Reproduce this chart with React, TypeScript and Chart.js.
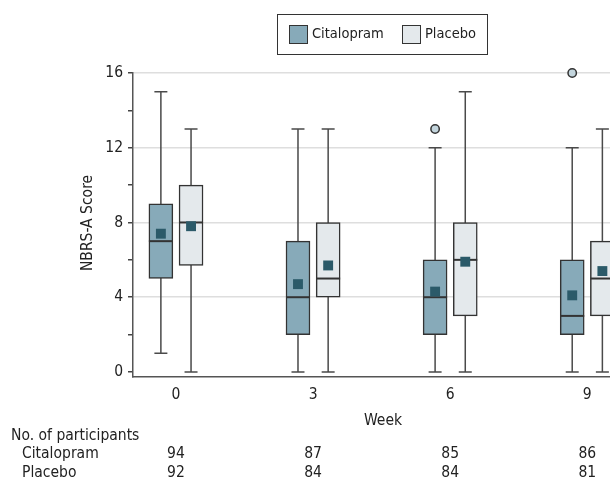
import React, { useEffect, useRef } from "react";
import { Chart, registerables } from "chart.js";

Chart.register(...registerables);

// ---- data ----
const weeks = [0, 3, 6, 9];
const citalopramLow = [1, 0, 0, 0];
const citalopramQ1 = [5, 2, 2, 2];
const citalopramMedian = [7, 4, 4, 3];
const citalopramQ3 = [9, 7, 6, 6];
const citalopramHigh = [15, 13, 12, 12];
const citalopramMean = [7.4, 4.7, 4.3, 4.1];
const citalopramOutlierWeeks = [6, 9];
const citalopramOutlierValues = [13, 16];

const placeboLow = [0, 0, 0, 0];
const placeboQ1 = [5.7, 4, 3, 3];
const placeboMedian = [8, 5, 6, 5];
const placeboQ3 = [10, 8, 8, 7];
const placeboHigh = [13, 13, 15, 13];
const placeboMean = [7.8, 5.7, 5.9, 5.4];

const citalopramN = [94, 87, 85, 86];
const placeboN = [92, 84, 84, 81];

const yTickValues = [0, 2, 4, 6, 8, 10, 12, 14, 16];
const yLabelValues = [0, 4, 8, 12, 16];

const seriesNames = ["Citalopram", "Placebo"];

// ---- style ----
const FONT = "'DejaVu Sans Condensed', 'DejaVu Sans', sans-serif";
const FS = 15.5;
const TEXT = "#222";
const CIT_FILL = "#87aab9";
const PLA_FILL = "#e4e9ec";
const MEAN_COL = "#2b5a69";
const BOX_BORDER = "#333";
const WHISKER = "#4a4a4a";
const OFFSET = 0.33;

const groups = [
  { name: seriesNames[0], off: -OFFSET, low: citalopramLow, q1: citalopramQ1, med: citalopramMedian, q3: citalopramQ3, high: citalopramHigh },
  { name: seriesNames[1], off: OFFSET, low: placeboLow, q1: placeboQ1, med: placeboMedian, q3: placeboQ3, high: placeboHigh },
];

const boxPlugin = {
  id: "boxExtras",
  beforeDatasetsDraw(chart: any) {
    const { ctx, scales } = chart;
    const x = scales.x, y = scales.y;
    ctx.save();
    ctx.strokeStyle = WHISKER;
    ctx.lineWidth = 1.5;
    const cap = 6.5;
    groups.forEach((g) => {
      weeks.forEach((w, i) => {
        const px = x.getPixelForValue(w + g.off);
        const yl = y.getPixelForValue(g.low[i]);
        const yh = y.getPixelForValue(g.high[i]);
        ctx.beginPath();
        ctx.moveTo(px, yl);
        ctx.lineTo(px, yh);
        ctx.moveTo(px - cap, yl);
        ctx.lineTo(px + cap, yl);
        ctx.moveTo(px - cap, yh);
        ctx.lineTo(px + cap, yh);
        ctx.stroke();
      });
    });
    ctx.restore();
  },
  afterDatasetDraw(chart: any, args: any) {
    if (args.index > 1) return;
    const g = groups[args.index];
    const { ctx, scales } = chart;
    const x = scales.x, y = scales.y;
    ctx.save();
    ctx.strokeStyle = BOX_BORDER;
    ctx.lineWidth = 2;
    weeks.forEach((w, i) => {
      const px = x.getPixelForValue(w + g.off);
      const py = y.getPixelForValue(g.med[i]);
      ctx.beginPath();
      ctx.moveTo(px - 12, py);
      ctx.lineTo(px + 12, py);
      ctx.stroke();
    });
    ctx.restore();
  },
  afterDraw(chart: any) {
    const { ctx, scales, chartArea } = chart;
    const x = scales.x;
    ctx.save();
    ctx.fillStyle = TEXT;
    ctx.font = `${FS}px ${FONT}`;
    ctx.textBaseline = "middle";
    // y title
    ctx.save();
    ctx.translate(88, (chartArea.top + chartArea.bottom) / 2 - 2);
    ctx.rotate(-Math.PI / 2);
    ctx.textAlign = "center";
    ctx.fillText("NBRS-A Score", 0, 0);
    ctx.restore();
    // x title
    ctx.textAlign = "center";
    ctx.fillText("Week", (chartArea.left + chartArea.right) / 2, 421);
    // participants table
    ctx.textAlign = "left";
    ctx.fillText("No. of participants", 11, 436);
    ctx.fillText(seriesNames[0], 22, 454);
    ctx.fillText(seriesNames[1], 22, 473);
    ctx.textAlign = "center";
    weeks.forEach((w, i) => {
      const px = x.getPixelForValue(w);
      ctx.fillText(String(citalopramN[i]), px, 454);
      ctx.fillText(String(placeboN[i]), px, 473);
    });
    // legend
    ctx.font = `14.5px ${FONT}`;
    ctx.strokeStyle = "#333";
    ctx.lineWidth = 1;
    ctx.strokeRect(277.5, 14.5, 210, 40);
    const items = [
      { fill: CIT_FILL, sx: 289, tx: 312, label: seriesNames[0] },
      { fill: PLA_FILL, sx: 402, tx: 425, label: seriesNames[1] },
    ];
    items.forEach((it) => {
      ctx.fillStyle = it.fill;
      ctx.fillRect(it.sx, 25, 18, 18);
      ctx.strokeRect(it.sx + 0.5, 25.5, 18, 18);
      ctx.fillStyle = TEXT;
      ctx.textAlign = "left";
      ctx.fillText(it.label, it.tx, 34);
    });
    ctx.restore();
  },
};

export default function App() {
  const ref = useRef<HTMLCanvasElement | null>(null);
  useEffect(() => {
    if (!ref.current) return;
    Chart.defaults.font.family = FONT;
    Chart.defaults.font.size = FS;
    Chart.defaults.color = TEXT;
    const chart = new Chart(ref.current, {
      type: "bar",
      data: {
        datasets: [
          {
            type: "bar",
            label: seriesNames[0],
            data: weeks.map((w, i) => ({ x: w - OFFSET, y: [citalopramQ1[i], citalopramQ3[i]] })) as any,
            backgroundColor: CIT_FILL,
            borderColor: BOX_BORDER,
            borderWidth: 1.5,
            borderSkipped: false,
            barThickness: 24,
            grouped: false,
            order: 2,
          },
          {
            type: "bar",
            label: seriesNames[1],
            data: weeks.map((w, i) => ({ x: w + OFFSET, y: [placeboQ1[i], placeboQ3[i]] })) as any,
            backgroundColor: PLA_FILL,
            borderColor: BOX_BORDER,
            borderWidth: 1.5,
            borderSkipped: false,
            barThickness: 24,
            grouped: false,
            order: 2,
          },
          {
            type: "scatter",
            label: "Citalopram mean",
            data: weeks.map((w, i) => ({ x: w - OFFSET, y: citalopramMean[i] })),
            pointStyle: "rect",
            pointRadius: 7,
            backgroundColor: MEAN_COL,
            borderWidth: 0,
            order: 0,
          },
          {
            type: "scatter",
            label: "Placebo mean",
            data: weeks.map((w, i) => ({ x: w + OFFSET, y: placeboMean[i] })),
            pointStyle: "rect",
            pointRadius: 7,
            backgroundColor: MEAN_COL,
            borderWidth: 0,
            order: 0,
          },
          {
            type: "scatter",
            label: "Citalopram outliers",
            data: citalopramOutlierWeeks.map((w, i) => ({ x: w - OFFSET, y: citalopramOutlierValues[i] })),
            pointStyle: "circle",
            pointRadius: 4.2,
            backgroundColor: "#c3d5dd",
            borderColor: "#333",
            borderWidth: 1.5,
            order: 0,
            clip: false,
          },
        ] as any,
      },
      options: {
        animation: false,
        responsive: false,
        devicePixelRatio: 1,
        layout: { padding: { top: 73, left: 0, right: 7, bottom: 0 } },
        plugins: { legend: { display: false }, tooltip: { enabled: false }, title: { display: false } },
        scales: {
          x: {
            type: "linear",
            offset: false,
            min: -0.94,
            max: 10,
            afterBuildTicks: (s: any) => {
              s.ticks = weeks.map((v) => ({ value: v }));
            },
            afterFit: (s: any) => {
              s.height = 116;
            },
            grid: { display: false, offset: false },
            border: { display: true, color: "#555", width: 1.5 },
            ticks: { padding: 1, color: TEXT, font: { size: FS, family: FONT }, callback: (v: any) => String(v) },
          },
          y: {
            type: "linear",
            min: -0.27,
            max: 16,
            afterBuildTicks: (s: any) => {
              s.ticks = yTickValues.map((v) => ({ value: v }));
            },
            afterFit: (s: any) => {
              s.width = 133;
            },
            grid: {
              color: (c: any) => (c.tick && c.tick.value > 0 && c.tick.value % 4 === 0 ? "#dedede" : "rgba(0,0,0,0)"),
              lineWidth: 1.5,
              tickColor: "#444",
              tickLength: 5,
              drawTicks: true,
            },
            border: { display: true, color: "#555", width: 1.5 },
            ticks: {
              padding: 5,
              color: TEXT,
              font: { size: FS, family: FONT },
              autoSkip: false,
              callback: (v: any) => (yLabelValues.includes(v) ? String(v) : ""),
            },
          },
        },
      },
      plugins: [boxPlugin],
    } as any);
    return () => chart.destroy();
  }, []);
  return (
    <div style={{ position: "fixed", left: 0, top: 0, width: 610, height: 493, overflow: "hidden", background: "#fff" }}>
      <canvas ref={ref} width={640} height={493} style={{ display: "block", width: 640, height: 493 }} />
    </div>
  );
}
